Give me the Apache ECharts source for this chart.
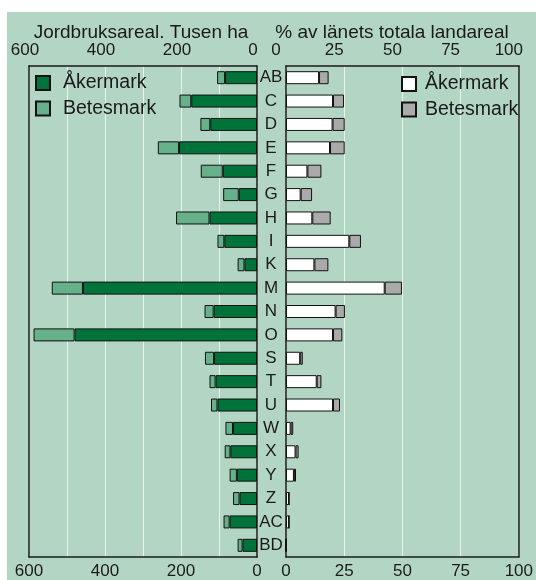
<!DOCTYPE html>
<html>
<head>
<meta charset="utf-8">
<script src="https://cdn.jsdelivr.net/npm/echarts@6/dist/echarts.min.js"></script>
<style>
  body { margin: 0; background: #fff; }
  #wrap { position: relative; width: 536px; height: 580px; }
  #panel { position: absolute; left: 7px; top: 12px; right: 0; bottom: 0; background: #b3d6c4; }
  #main { position: absolute; left: 0; top: 0; width: 536px; height: 580px; }
</style>
</head>
<body>
<div id="wrap">
  <div id="panel"></div>
  <div id="main"></div>
</div>
<script>
// län
const categories = ['AB', 'C', 'D', 'E', 'F', 'G', 'H', 'I', 'K', 'M', 'N', 'O', 'S', 'T', 'U', 'W', 'X', 'Y', 'Z', 'AC', 'BD']
// jordbruksareal, tusen ha
const akerHa = [84, 173, 123, 205, 90, 48, 125, 86, 33, 458, 114, 480, 113, 109, 104, 63, 70, 53, 46, 72, 38]
const betesHa = [21, 31, 26, 56, 58, 41, 88, 18, 18, 82, 24, 108, 24, 16, 17, 20, 15, 19, 17, 16, 13]
// % av länets totala landareal
const akerPct = [14.2, 20.2, 20, 18.9, 9.2, 6.3, 11.3, 27.2, 12.2, 42.4, 21.3, 20.2, 6.1, 13.2, 20.2, 2, 4.1, 3.4, 1.3, 1.3, 0]
const betesPct = [4.1, 4.7, 5.2, 6.3, 6, 4.9, 7.9, 5, 6, 7.4, 4, 4, 1.1, 2, 3, 1.1, 1.3, 0.9, 0, 0, 0]

const font = 'Liberation Sans, Arial, sans-serif'
const txt = '#1a1a1a'
const frame = { show: true, onZero: false, lineStyle: { color: '#1a1a1a', width: 1.5 } }
const gridLine = { show: true, lineStyle: { color: '#e8f3ed', width: 1 } }

const myChart = echarts.init(document.getElementById('main'))

function xAxis (grid, pos, max, interval, inverse, split, fmt, pad) {
  return {
    type: 'value',
    gridIndex: grid,
    position: pos,
    min: 0,
    max: max,
    interval: interval,
    inverse: inverse,
    axisLine: frame,
    axisTick: { show: false },
    splitLine: split ? gridLine : { show: false },
    axisLabel: {
      color: txt,
      fontFamily: font,
      fontSize: 17,
      margin: pos === 'top' ? 7 : 6,
      padding: pad,
      formatter: fmt
    }
  }
}

// kategoriaxel, bara som ram på ena sidan
function yFrame (grid, pos) {
  return {
    type: 'category', gridIndex: grid, data: categories, inverse: true, position: pos,
    axisLine: frame, axisTick: { show: false }, axisLabel: { show: false }
  }
}
const leftFmt = v => (v % 200 === 0 ? String(v) : '')

myChart.setOption({
  animation: false,
  title: [
    { text: 'Jordbruksareal. Tusen ha', left: 136, top: 18, textAlign: 'center',
      textStyle: { fontFamily: font, fontSize: 19, fontWeight: 'normal', color: txt } },
    { text: '% av länets totala landareal', left: 387, top: 18, textAlign: 'center',
      textStyle: { fontFamily: font, fontSize: 19, fontWeight: 'normal', color: txt } }
  ],
  legend: [
    {
      orient: 'vertical', left: 30, top: 68, itemWidth: 14, itemHeight: 14, itemGap: 5.5,
      icon: 'rect',
      data: ['Åkermark', 'Betesmark'],
      textStyle: { fontFamily: font, fontSize: 19.5, color: txt, padding: [0, 0, 0, 8] }
    },
    {
      orient: 'vertical', left: 396, top: 69, itemWidth: 14, itemHeight: 14, itemGap: 5.5,
      icon: 'rect',
      data: ['Åkermark (%)', 'Betesmark (%)'],
      formatter: name => name.replace(' (%)', ''),
      textStyle: { fontFamily: font, fontSize: 19.5, color: txt, padding: [0, 0, 0, 4] }
    }
  ],
  grid: [
    { left: 29, top: 66, width: 228, height: 492 },
    { left: 286, top: 66, width: 233, height: 492 }
  ],
  xAxis: [
    xAxis(0, 'bottom', 600, 100, true, true, leftFmt),
    xAxis(0, 'top', 600, 100, true, false, leftFmt, [0, 8, 0, 0]),
    xAxis(1, 'bottom', 100, 25, false, true),
    xAxis(1, 'top', 100, 25, false, false, null, [0, 20, 0, 0])
  ],
  yAxis: [
    yFrame(0, 'right'),
    {
      type: 'category', gridIndex: 1, data: categories, inverse: true, position: 'left',
      axisLine: frame, axisTick: { show: false },
      axisLabel: { color: txt, fontFamily: font, fontSize: 17, align: 'center', margin: 15 }
    },
    yFrame(0, 'left'),
    yFrame(1, 'right')
  ],
  series: [
    {
      name: 'Åkermark', type: 'bar', stack: 'ha', xAxisIndex: 0, yAxisIndex: 0, barWidth: 13,
      itemStyle: { color: '#00733a', borderColor: '#111', borderWidth: 1 },
      data: akerHa
    },
    {
      name: 'Betesmark', type: 'bar', stack: 'ha', xAxisIndex: 0, yAxisIndex: 0, barWidth: 13,
      itemStyle: { color: '#66b08a', borderColor: '#111', borderWidth: 1 },
      data: betesHa
    },
    {
      name: 'Åkermark (%)', type: 'bar', stack: 'pct', xAxisIndex: 2, yAxisIndex: 1, barWidth: 13,
      itemStyle: { color: '#ffffff', borderColor: '#111', borderWidth: 1 },
      data: akerPct
    },
    {
      name: 'Betesmark (%)', type: 'bar', stack: 'pct', xAxisIndex: 2, yAxisIndex: 1, barWidth: 13,
      itemStyle: { color: '#aaaaaa', borderColor: '#111', borderWidth: 1 },
      data: betesPct
    }
  ]
})
</script>
</body>
</html>
